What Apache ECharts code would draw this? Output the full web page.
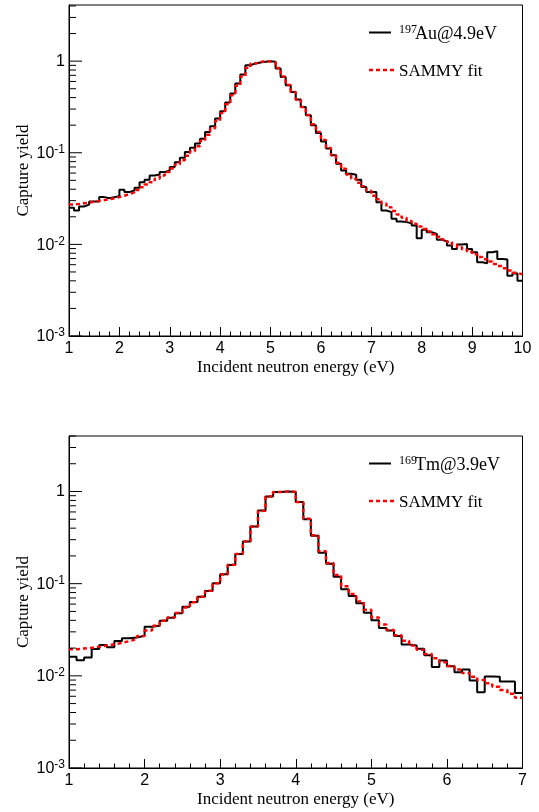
<!DOCTYPE html>
<html><head><meta charset="utf-8">
<script src="https://cdn.jsdelivr.net/npm/echarts@6/dist/echarts.min.js"></script>
<style>html,body{margin:0;padding:0;background:#fff}#c{width:539px;height:812px}</style>
</head><body><div id="c"></div><script>
// ---- data: 197Au (bin low edges, measured yield, SAMMY fit) ----
const auEdges = [1.0,1.1,1.2,1.3,1.4,1.5,1.6,1.7,1.8,1.9,2.0,2.1,2.2,2.3,2.4,2.5,2.6,2.7,2.8,2.9,
  3.0,3.1,3.2,3.3,3.4,3.5,3.6,3.7,3.8,3.9,4.0,4.1,4.2,4.3,4.4,4.5,4.6,4.7,4.8,4.9,
  5.0,5.1,5.2,5.3,5.4,5.5,5.6,5.7,5.8,5.9,6.0,6.1,6.2,6.3,6.4,6.5,6.6,6.7,6.8,6.9,
  7.0,7.1,7.2,7.3,7.4,7.5,7.6,7.7,7.8,7.9,8.0,8.1,8.2,8.3,8.4,8.5,8.6,8.7,8.8,8.9,
  9.0,9.1,9.2,9.3,9.4,9.5,9.6,9.7,9.8,9.9,10.0];
const auYield = [0.0251,0.0234,0.0259,0.0272,0.0294,0.0294,0.0328,0.0319,0.0328,0.0336,
  0.0395,0.0372,0.0388,0.0415,0.0478,0.0508,0.0566,0.0580,0.0615,0.0642,
  0.0698,0.0790,0.0884,0.1020,0.1137,0.1259,0.1426,0.168,0.1945,0.236,
  0.284,0.353,0.443,0.570,0.715,0.904,0.944,0.968,0.983,1.0,
  0.983,0.832,0.673,0.546,0.461,0.381,0.316,0.257,0.1995,0.164,
  0.133,0.111,0.0937,0.0760,0.0642,0.0591,0.0576,0.0508,0.0422,0.0372,
  0.0372,0.0289,0.0234,0.0225,0.0190,0.0178,0.0175,0.0170,0.0161,0.01167,
  0.0144,0.01356,0.01303,0.0112,0.0108,0.0097,0.00893,0.00995,0.0101,0.00893,
  0.0082,0.00637,0.00621,0.0082,0.0084,0.00694,0.00682,0.00456,0.0048,0.00402];
const auFit = [0.0272,0.0276,0.0281,0.0286,0.0292,0.0298,0.0304,0.0311,0.0319,0.0328,
  0.0340,0.0354,0.0370,0.0392,0.0420,0.0450,0.0478,0.0520,0.0565,0.0615,
  0.0675,0.0745,0.083,0.093,0.104,0.118,0.135,0.157,0.185,0.222,
  0.272,0.338,0.425,0.54,0.68,0.84,0.94,0.98,1.0,0.995,
  0.965,0.84,0.68,0.55,0.46,0.38,0.316,0.258,0.205,0.168,
  0.138,0.113,0.094,0.078,0.067,0.058,0.052,0.047,0.0430,0.0385,
  0.0340,0.0310,0.0280,0.0255,0.0232,0.0212,0.0195,0.0180,0.0168,0.0157,
  0.0147,0.0138,0.0129,0.0121,0.0113,0.0106,0.0099,0.0093,0.0088,0.0083,
  0.0078,0.0073,0.0069,0.0065,0.0061,0.0058,0.0055,0.0052,0.0049,0.0047];
// ---- data: 169Tm ----
const tmEdges = [1.0,1.1,1.2,1.3,1.4,1.5,1.6,1.7,1.8,1.9,2.0,2.1,2.2,2.3,2.4,2.5,2.6,2.7,2.8,2.9,
  3.0,3.1,3.2,3.3,3.4,3.5,3.6,3.7,3.8,3.9,4.0,4.1,4.2,4.3,4.4,4.5,4.6,4.7,4.8,4.9,
  5.0,5.1,5.2,5.3,5.4,5.5,5.6,5.7,5.8,5.9,6.0,6.1,6.2,6.3,6.4,6.5,6.6,6.7,6.8,6.9,7.0];
const tmYield = [0.0161,0.0148,0.0158,0.0195,0.0216,0.0204,0.0238,0.0255,0.0261,0.0272,
  0.0341,0.0349,0.0396,0.0427,0.0477,0.0562,0.0633,0.0722,0.0833,0.101,
  0.1265,0.1596,0.210,0.286,0.417,0.621,0.883,0.99,1.0,0.995,
  0.77,0.50,0.33,0.217,0.164,0.119,0.087,0.0734,0.0612,0.0484,
  0.040,0.033,0.0311,0.027,0.0219,0.0214,0.0197,0.0167,0.01244,0.01469,
  0.0127,0.01096,0.01174,0.0089,0.00665,0.00985,0.0098,0.00869,0.00869,0.00653];
const tmFit = [0.0194,0.0198,0.0202,0.0207,0.0213,0.0220,0.0228,0.0238,0.0250,0.0270,
  0.0310,0.0350,0.0395,0.0430,0.0480,0.0550,0.0630,0.0720,0.0840,0.101,
  0.126,0.160,0.210,0.287,0.415,0.620,0.880,0.990,1.0,0.990,
  0.770,0.505,0.335,0.225,0.168,0.124,0.094,0.077,0.064,0.052,
  0.043,0.036,0.0315,0.0275,0.0240,0.0213,0.0192,0.0172,0.0155,0.0140,
  0.0128,0.0117,0.0107,0.0098,0.0090,0.0083,0.0076,0.0070,0.0064,0.0058];
// ---- axes ----
const yTickMajor = [0.001,0.01,0.1,1];
const yTickMinor = [0.002,0.003,0.004,0.005,0.006,0.007,0.008,0.009,
  0.02,0.03,0.04,0.05,0.06,0.07,0.08,0.09,0.2,0.3,0.4,0.5,0.6,0.7,0.8,0.9,2,3,4];
const xRanges = [[1,10],[1,7]];
const yMaxes = [4.1,4.0];

function hist(edges, vals){
  const d = vals.map((v,i)=>[edges[i], v]);
  d.push([edges[edges.length-1], vals[vals.length-1]]);
  return d;
}
const SERIF = 'Liberation Serif, Times New Roman, serif';
const SANS = 'Liberation Sans, Arial, sans-serif';

function yLabel(v){
  const l = Math.log10(v), e = Math.round(l);
  if (Math.abs(l-e) > 1e-6) return '';
  if (e === 0) return '1';
  return '{base|10}{sup|' + (e<0?'-':'') + Math.abs(e) + '}';
}

const grids = [
  {left:69, top:5, width:453.5, height:331},
  {left:69, top:436, width:453.5, height:332}
].map(g => Object.assign(g, {show:true, borderColor:'#000', borderWidth:1, backgroundColor:'transparent'}));

const xAxes = xRanges.map((r,i)=>({
  type:'value', gridIndex:i, min:r[0], max:r[1], interval:1,
  axisLine:{show:true, onZero:false, lineStyle:{color:'#000', width:1}},
  axisTick:{show:true, inside:true, length:9, lineStyle:{color:'#000', width:1}},
  minorTick:{show:true, splitNumber:5, length:4.5, lineStyle:{color:'#000', width:1}},
  splitLine:{show:false}, minorSplitLine:{show:false},
  axisLabel:{color:'#000', fontFamily:SANS, fontSize:16, margin:5},
  name:'Incident neutron energy (eV)', nameLocation:'middle', nameGap:23, nameMoveOverlap:false,
  nameTextStyle:{color:'#000', fontFamily:SERIF, fontSize:17}
}));
const yAxes = yMaxes.map((m,i)=>({
  type:'log', logBase:10, gridIndex:i, min:0.001, max:m,
  axisLine:{show:true, lineStyle:{color:'#000', width:1}},
  axisTick:{show:false}, splitLine:{show:false},
  axisLabel:{color:'#000', fontFamily:SANS, fontSize:16, margin:4, formatter:yLabel,
    rich:{base:{fontFamily:SANS, fontSize:16, lineHeight:18, color:'#000', verticalAlign:'bottom'},
          sup:{fontFamily:SANS, fontSize:12, lineHeight:12, color:'#000', verticalAlign:'top'}}},
  name:'Capture yield', nameLocation:'middle', nameGap:37, nameRotate:90, nameMoveOverlap:false,
  nameTextStyle:{color:'#000', fontFamily:SERIF, fontSize:17}
}));

function tickSeries(i){
  const x0 = xRanges[i][0];
  const data = yTickMajor.map(v=>[x0, v, 13]).concat(yTickMinor.map(v=>[x0, v, 7]));
  return {type:'custom', xAxisIndex:i, yAxisIndex:i, silent:true, z:5,
    encode:{x:0, y:1}, data:data,
    renderItem:(params, api)=>{
      const p = api.coord([api.value(0), api.value(1)]);
      return {type:'line', shape:{x1:p[0], y1:p[1], x2:p[0]+api.value(2), y2:p[1]},
        style:{stroke:'#000', lineWidth:1}};
    }};
}
function dataSeries(i, edges, vals){
  return {type:'line', xAxisIndex:i, yAxisIndex:i, step:'end', symbol:'none', z:3,
    data:hist(edges, vals), lineStyle:{color:'#000', width:2}, animation:false};
}
function fitSeries(i, edges, vals){
  return {type:'line', xAxisIndex:i, yAxisIndex:i, step:'end', symbol:'none', z:4,
    data:hist(edges, vals), lineStyle:{color:'#ff0000', width:2.5, type:[4,3]}, animation:false};
}

function legend(y0, sup, main){
  return [
    {type:'line', shape:{x1:369, y1:y0, x2:391, y2:y0}, style:{stroke:'#000', lineWidth:2}},
    {type:'text', x:399, y:y0-3, style:{text:sup, font:'12px '+SERIF, fill:'#000', verticalAlign:'middle'}},
    {type:'text', x:415, y:y0+1.5, style:{text:main, font:'18px '+SERIF, fill:'#000', verticalAlign:'middle'}},
    {type:'line', shape:{x1:369, y1:y0+37.5, x2:395, y2:y0+37.5}, style:{stroke:'#ff0000', lineWidth:2.5, lineDash:[4,3]}},
    {type:'text', x:399, y:y0+39, style:{text:'SAMMY fit', font:'17px '+SERIF, fill:'#000', verticalAlign:'middle'}}
  ];
}

const chart = echarts.init(document.getElementById('c'), null, {renderer:'canvas'});
chart.setOption({
  animation:false,
  grid:grids, xAxis:xAxes, yAxis:yAxes,
  series:[
    dataSeries(0, auEdges, auYield), fitSeries(0, auEdges, auFit), tickSeries(0),
    dataSeries(1, tmEdges, tmYield), fitSeries(1, tmEdges, tmFit), tickSeries(1)
  ],
  graphic: legend(32.5, '197', 'Au@4.9eV').concat(legend(463.5, '169', 'Tm@3.9eV'))
});
</script></body></html>
